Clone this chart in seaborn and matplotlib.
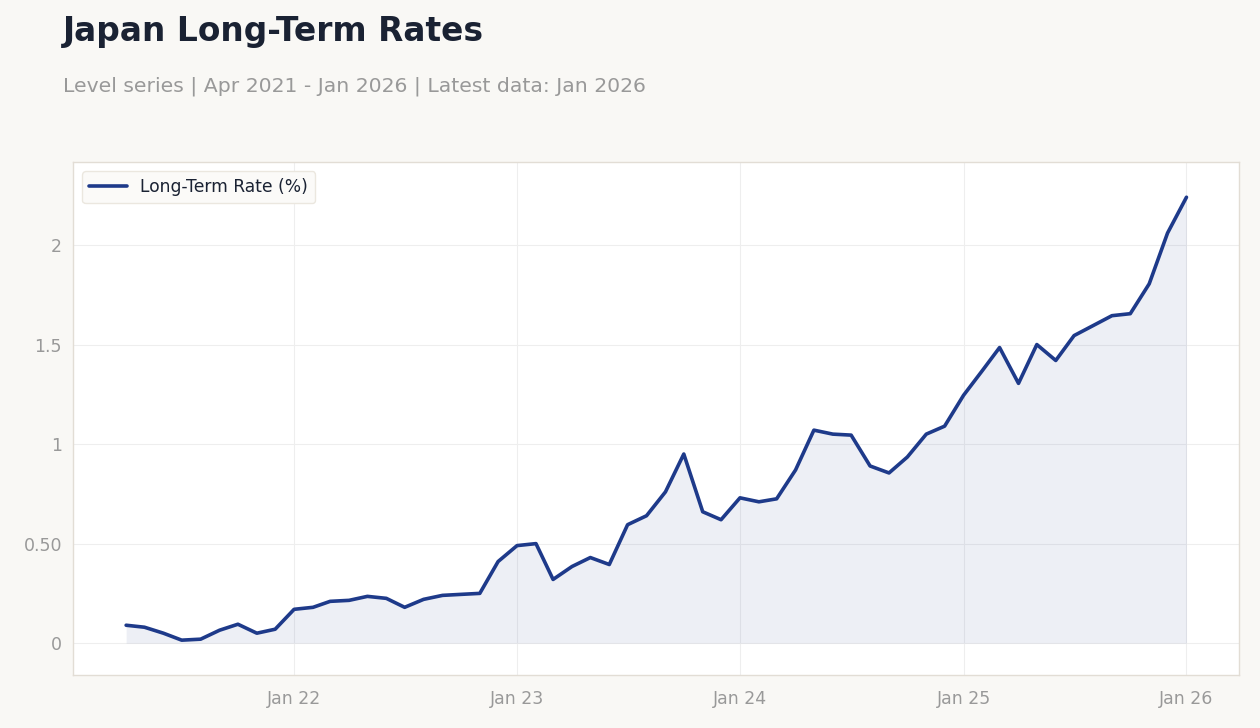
import numpy as np
import pandas as pd
import matplotlib
matplotlib.use("Agg")
import matplotlib.pyplot as plt
import matplotlib.dates as mdates
import seaborn as sns

dates = pd.date_range("2021-04-01", "2026-01-01", freq="MS")
rates = [0.09, 0.08, 0.05, 0.015, 0.02, 0.065, 0.095, 0.05, 0.07,
         0.17, 0.18, 0.21, 0.215, 0.235, 0.225, 0.18, 0.22, 0.24, 0.245, 0.25, 0.41,
         0.49, 0.50, 0.32, 0.385, 0.43, 0.395, 0.595, 0.64, 0.76, 0.95, 0.66, 0.62,
         0.73, 0.71, 0.725, 0.87, 1.07, 1.05, 1.045, 0.89, 0.855, 0.935, 1.05, 1.09,
         1.245, 1.37, 1.485, 1.305, 1.50, 1.42, 1.545, 1.595, 1.645, 1.655, 1.805, 2.06,
         2.24]
ytick_vals = [0, 0.5, 1, 1.5, 2]
ytick_labels = ["0", "0.50", "1", "1.5", "2"]
xtick_dates = pd.to_datetime(["2022-01-01", "2023-01-01", "2024-01-01", "2025-01-01", "2026-01-01"])
xtick_labels = ["Jan 22", "Jan 23", "Jan 24", "Jan 25", "Jan 26"]

df = pd.DataFrame({"date": dates, "rate": rates})

sns.set_theme(style="white")
plt.rcParams["font.family"] = ["DejaVu Sans"]

BG = "#f9f8f5"
LINE = "#1e3a8a"
fig = plt.figure(figsize=(12.6, 7.28), dpi=100, facecolor=BG)
ax = fig.add_axes([73/1260, 1-675/728, (1239-73)/1260, (675-162)/728])
ax.set_facecolor("white")

sns.lineplot(data=df, x="date", y="rate", ax=ax, color=LINE, linewidth=2.6,
             label="Long-Term Rate (%)")
ax.fill_between(df["date"], df["rate"], 0, color=LINE, alpha=0.08, linewidth=0)

ax.set_xlim(pd.Timestamp("2021-01-04"), pd.Timestamp("2026-03-28"))
ax.set_ylim(-0.16, 2.417)
ax.set_yticks(ytick_vals)
ax.set_yticklabels(ytick_labels)
ax.set_xticks(xtick_dates)
ax.set_xticklabels(xtick_labels)
ax.set_xlabel("")
ax.set_ylabel("")
ax.grid(True, color="#eeeeee", linewidth=0.8)
ax.tick_params(axis="x", colors="#999999", labelsize=12.5, length=0, pad=11)
ax.tick_params(axis="y", colors="#999999", labelsize=12.5, length=0, pad=8)
for s in ax.spines.values():
    s.set_color("#e2ddd5")
    s.set_linewidth(1)

leg = ax.legend(loc="upper left", fontsize=12.3, frameon=True, facecolor="#fbfaf8",
                edgecolor="#ebe7df", framealpha=1, handlelength=2.2,
                borderaxespad=0.55)
for t in leg.get_texts():
    t.set_color("#1a2233")

fig.text(63/1260, 1-31/728, "Japan Long-Term Rates", fontsize=23.7, fontweight="bold",
         color="#1a2233", va="center", ha="left")
fig.text(63/1260, 1-86/728, "Level series | Apr 2021 - Jan 2026 | Latest data: Jan 2026",
         fontsize=14.7, color="#999999", va="center", ha="left")

fig.savefig("out.png", dpi=100, facecolor=BG)
